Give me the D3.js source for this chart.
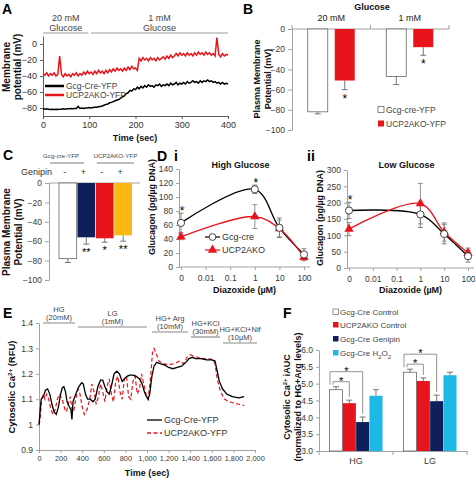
<!DOCTYPE html>
<html><head><meta charset="utf-8">
<script src="https://cdn.jsdelivr.net/npm/d3@7"></script>
<style>
body{margin:0;background:#fff}
svg{display:block}
text{font-family:"Liberation Sans",Arial,sans-serif}
</style>
</head><body>
<svg id="c" width="476" height="479"></svg>
<script>
// ---------------- DATA ----------------
// Panel A: membrane potential traces (sampled every 4 s, 0-400 s)
const aGcg = [
 -81,-81.5,-81,-81.5,-82,-81.5,-82,-81.5,-82,-81.5,
 -81.5,-81,-81.5,-81,-81,-80.5,-81,-80.5,-80.5,-78,
 -80.5,-80,-80.5,-80,-80,-79.5,-80,-79.5,-79,-79,
 -78.5,-78,-77.5,-76.5,-75.5,-75,-73.5,-73,-72,-71,
 -70,-69.5,-67.5,-66,-65,-62,-61,-58,-59,-56,
 -57,-54,-56,-53,-55,-52,-54,-51,-53,-52,
 -54,-51,-52,-50,-53,-51,-52,-50,-52,-49,
 -51,-50,-48,-51,-49,-50,-48,-50,-47,-49,
 -48,-46,-48,-47,-49,-46,-48,-46,-47,-45,
 -47,-46,-48,-47,-49,-48,-50,-48,-50,-49,
 -50];
const aUcp = [
 -37,-39,-36,-40,-37,-39,-36,-40,-38,-15,
 -38,-41,-37,-40,-38,-41,-37,-39,-36,-40,
 -37,-39,-35,-38,-34,-37,-35,-38,-34,-37,
 -33,-36,-34,-37,-33,-36,-32,-35,-31,-34,
 -30,-33,-31,-34,-30,-33,-29,-32,-28,-31,
 -30,-33,-18,-21,-17,-20,-18,-21,-17,-20,
 -18,-21,-17,-20,-18,-16,-19,-15,-18,-14,
 -17,-15,-12,-15,-11,-14,-12,-15,-11,-14,
 -12,-15,-11,-14,-10,-13,-11,-14,-10,-13,
 -11,-14,-12,-15,8,-13,-16,-12,-15,-13,
 -14];
const aTicksX = [0,100,200,300,400];
const aTicksY = [-80,-60,-40,-20,0];
const aProtocol = [{l1:"20 mM", l2:"Glucose", t0:0, t1:98},{l1:"1 mM", l2:"Glucose", t0:104, t1:400}];
const aLegend = ["Gcg-Cre-YFP","UCP2AKO-YFP"];

// Panel B
const bGroups = ["20 mM","1 mM"];
const bSeries = ["Gcg-cre-YFP","UCP2AKO-YFP"];
const bGcg = [-82,-47];
const bGcgErr = [2,8];
const bUcp = [-51,-18];
const bUcpErr = [9,8];
const bTicks = [-100,-80,-60,-40,-20,0];

// Panel C
const cConds = ["cre-","cre+","ko-","ko+"];
const cGenipin = ["-","+","-","+"];
const cVals = [-78,-56,-57,-54];
const cErr = [4,7,4,6];
const cStars = ["","**","*","**"];
const cTicks = [-100,-80,-60,-40,-20,0];

// Panel D (diazoxide uM; 0 plotted at 0.001)
const dDose = [0.001,1,10,100];
const dDoseLabels = ["0","0.01","0.1","1","10","100"];
const dDoseTicks = [0.001,0.01,0.1,1,10,100];
const dHiGcg = [63,111,56,18];
const dHiGcgErr = [14,6,14,8];
const dHiUcp = [43,72,55,14];
const dHiUcpErr = [4,17,12,5];
const dHiTicks = [0,20,40,60,80,100,120,140];
const dLoGcg = [176,164,104,36];
const dLoGcgErr = [25,40,30,18];
const dLoUcp = [119,197,110,46];
const dLoUcpErr = [20,62,28,15];
const dLoTicks = [0,50,100,150,200,250,300];

// Panel E: cytosolic Ca2+ traces
const eGcgT = [0,10,20,40,60,80,100,120,140,160,180,200,215,230,245,260,280,295,305,315,340,370,395,410,430,450,475,500,520,545,570,590,610,630,650,670,695,720,745,770,790,815,840,870,900,930,955,975,995,1010,1025,1045,1065,1090,1120,1160,1200,1240,1280,1320,1360,1390,1420,1450,1500,1550,1600,1630,1650,1670,1700,1740,1790,1850,1900];
const eGcgV = [1.0,1.05,1.10,1.11,1.135,1.14,1.12,1.08,1.05,1.04,1.07,1.12,1.145,1.15,1.13,1.09,1.07,1.06,1.02,1.09,1.12,1.15,1.165,1.16,1.12,1.10,1.10,1.09,1.10,1.15,1.175,1.175,1.15,1.13,1.12,1.15,1.20,1.21,1.20,1.17,1.18,1.19,1.195,1.195,1.19,1.18,1.16,1.13,1.11,1.10,1.12,1.19,1.23,1.245,1.24,1.235,1.225,1.22,1.225,1.23,1.245,1.26,1.265,1.26,1.26,1.255,1.255,1.25,1.21,1.17,1.14,1.12,1.11,1.105,1.11];
const eUcpT = [0,10,25,40,55,70,90,110,130,150,170,190,215,240,255,270,290,305,320,340,360,380,400,420,445,470,490,510,530,550,570,590,610,630,650,670,690,710,730,750,770,790,810,830,850,870,890,910,930,950,970,990,1010,1030,1050,1065,1085,1110,1150,1200,1250,1300,1340,1370,1400,1430,1470,1520,1570,1610,1630,1650,1680,1720,1760,1800,1850,1900];
const eUcpV = [1.0,1.02,1.10,1.12,1.10,1.12,1.10,1.06,1.04,1.06,1.10,1.12,1.10,1.06,1.05,1.08,1.11,1.06,1.05,1.10,1.14,1.12,1.07,1.04,1.06,1.10,1.16,1.13,1.08,1.11,1.16,1.13,1.09,1.15,1.18,1.12,1.09,1.17,1.19,1.13,1.10,1.18,1.19,1.11,1.10,1.17,1.19,1.12,1.14,1.20,1.16,1.12,1.10,1.17,1.28,1.30,1.28,1.25,1.24,1.235,1.24,1.25,1.24,1.265,1.275,1.27,1.265,1.26,1.26,1.255,1.24,1.18,1.13,1.10,1.09,1.085,1.08,1.075];
const eTicksX = [0,200,400,600,800,1000,1200,1400,1600,1800,2000];
const eTicksY = [0.9,1.0,1.1,1.2,1.3,1.4];
const eProtoL1 = ["HG","LG","HG+ Arg","HG+KCl","HG+KCl+Nif"];
const eProtoL2 = ["(20mM)","(1mM)","(10mM)","(30mM)","(10µM)"];
const eProtoStart = [37,361,1046,1407,1704];
const eProtoEnd = [333,1000,1380,1676,2019];
const eLegend = ["Gcg-Cre-YFP","UCP2AKO-YFP"];

// Panel F
const fGroups = ["HG","LG"];
const fSeries = ["Gcg-Cre Control","UCP2AKO Control","Gcg-Cre Genipin","Gcg-Cre H2O2"];
const fHG = [4.82,4.42,3.86,4.64];
const fHGErr = [0.09,0.09,0.15,0.18];
const fLG = [5.34,5.08,4.48,5.25];
const fLGErr = [0.09,0.09,0.18,0.09];
const fTicks = [3,3.5,4,4.5,5,5.5,6];

// ---------------- STYLE ----------------
const RED = "#e8141c", NAVY = "#0e1f5b", GOLD = "#fdb913", CYAN = "#1cb8e6";
const AX = "#8c8c8c", TX = "#3a3a3a";
const svg = d3.select("#c");
svg.append("rect").attr("width",476).attr("height",479).attr("fill","#fff");

function styleAxis(g, lc, tc, fs){
  g.select(".domain").attr("stroke", lc).attr("stroke-width",0.8);
  g.selectAll(".tick line").attr("stroke", lc).attr("stroke-width",0.8);
  g.selectAll(".tick text").attr("fill", tc).style("font-size", fs+"px").style("font-family","Liberation Sans, Arial, sans-serif");
}
function txt(x,y,s,o={}){
  const t = svg.append("text").attr("x",x).attr("y",y).text(s)
    .style("font-size",(o.fs||9)+"px").attr("fill",o.fill||TX)
    .attr("text-anchor",o.anchor||"start");
  if(o.bold) t.style("font-weight","bold");
  return t;
}
function vtxt(x,y,parts,fs,bold){
  const t = svg.append("text").attr("transform",`translate(${x},${y}) rotate(-90)`)
    .attr("text-anchor","middle").style("font-size",fs+"px").attr("fill","#111");
  if(bold) t.style("font-weight","bold");
  parts.forEach(p=>{
    const s=t.append("tspan").text(p[0]);
    if(p[1]==="sup"){s.attr("baseline-shift","super").style("font-size",(fs*0.65)+"px");}
  });
  return t;
}
function letter(x,y,s){ txt(x,y,s,{fs:14,bold:true,fill:"#000"}); }

// ================= PANEL A =================
{
  const x = d3.scaleLinear([0,400],[43,228]);
  const y = d3.scaleLinear([-90,10],[116,36]);
  const times = d3.range(0,401,4);
  const gx = svg.append("g").attr("transform","translate(0,116)")
    .call(d3.axisBottom(x).tickValues(aTicksX).tickSize(3).tickSizeOuter(0));
  styleAxis(gx,"#333","#333",9);
  const gy = svg.append("g").attr("transform","translate(43,0)")
    .call(d3.axisLeft(y).tickValues(aTicksY).tickSize(3).tickSizeOuter(0));
  styleAxis(gy,"#333","#333",9);
  const line = d3.line().x((d,i)=>x(times[i])).y(d=>y(d));
  svg.append("path").datum(aUcp).attr("d",line).attr("fill","none").attr("stroke",RED).attr("stroke-width",1.5);
  svg.append("path").datum(aGcg).attr("d",line).attr("fill","none").attr("stroke","#000").attr("stroke-width",1.5);
  aProtocol.forEach(p=>{
    svg.append("line").attr("x1",x(p.t0)).attr("x2",x(p.t1)).attr("y1",33).attr("y2",33).attr("stroke","#999").attr("stroke-width",1);
    const cx=(x(p.t0)+x(p.t1))/2;
    txt(cx,21,p.l1,{fs:9,anchor:"middle",fill:"#444"});
    txt(cx,31,p.l2,{fs:9,anchor:"middle",fill:"#444"});
  });
  [["#000",86],[RED,95]].forEach((c,i)=>{
    svg.append("line").attr("x1",45).attr("x2",64).attr("y1",c[1]).attr("y2",c[1]).attr("stroke",c[0]).attr("stroke-width",2.5);
    txt(66,c[1]+3,aLegend[i],{fs:8.5,fill:"#444"});
  });
  txt(135,141,"Time (sec)",{fs:9,bold:true,anchor:"middle",fill:"#111"});
  vtxt(10,67,[["Membrane"]],10,true);
  vtxt(21,67,[["potential (mV)"]],10,true);
  letter(2,14,"A");
}

// ================= PANEL B =================
{
  const y = d3.scaleLinear([-100,0],[130,29]);
  const xg = d3.scaleBand(bGroups,[292,449]);
  const xs = d3.scaleBand(bSeries,[0,47]).paddingInner(0.26);
  const gy = svg.append("g").attr("transform","translate(292,0)")
    .call(d3.axisLeft(y).tickValues(bTicks).tickSize(4).tickSizeOuter(0));
  styleAxis(gy,AX,TX,8.5);
  svg.append("line").attr("x1",292).attr("x2",449).attr("y1",29).attr("y2",29).attr("stroke",AX).attr("stroke-width",0.8);
  [292, (292+449)/2, 449].forEach(xx=>svg.append("line").attr("x1",xx).attr("x2",xx).attr("y1",29).attr("y2",25).attr("stroke",AX).attr("stroke-width",0.8));
  bGroups.forEach((g,gi)=>{
    const off = xg(g) + (xg.bandwidth()-47)/2;
    [[bGcg,bGcgErr,"#fff"],[bUcp,bUcpErr,RED]].forEach((s,si)=>{
      const x0 = off + xs(bSeries[si]), w = xs.bandwidth(), v=s[0][gi], e=s[1][gi];
      svg.append("rect").attr("x",x0).attr("y",y(0)).attr("width",w).attr("height",y(v)-y(0))
        .attr("fill",s[2]).attr("stroke",si===0?"#666":"none").attr("stroke-width",0.8);
      const cx=x0+w/2;
      svg.append("line").attr("x1",cx).attr("x2",cx).attr("y1",y(v)).attr("y2",y(v-e)).attr("stroke","#555").attr("stroke-width",0.8);
      svg.append("line").attr("x1",cx-3).attr("x2",cx+3).attr("y1",y(v-e)).attr("y2",y(v-e)).attr("stroke","#555").attr("stroke-width",0.8);
      if(si===1) txt(cx,y(v-e)+13,"*",{fs:12,anchor:"middle",fill:"#000"});
    });
    txt(xg(g)+xg.bandwidth()/2,21,g,{fs:9,anchor:"middle",fill:"#222"});
  });
  txt(372,10,"Glucose",{fs:9,bold:true,anchor:"middle",fill:"#111"});
  vtxt(260,79,[["Plasma Membrane"]],9,true);
  vtxt(271,79,[["Potential (mV)"]],9,true);
  [["#fff",110],[RED,124]].forEach((c,i)=>{
    svg.append("rect").attr("x",378).attr("y",c[1]-3.5).attr("width",6).attr("height",6).attr("fill",c[0]).attr("stroke",i===0?"#666":"none").attr("stroke-width",0.8);
    txt(386,c[1]+3,bSeries[i],{fs:8.5,fill:"#444"});
  });
  letter(243,14,"B");
}

// ================= PANEL C =================
{
  const y = d3.scaleLinear([-100,0],[280,183]);
  const x = d3.scaleBand(cConds,[59,132]).paddingInner(0.04);
  const fills = ["#fff",NAVY,RED,GOLD];
  const gy = svg.append("g").attr("transform","translate(49,0)")
    .call(d3.axisLeft(y).tickValues(cTicks).tickSize(4).tickSizeOuter(0));
  styleAxis(gy,AX,TX,8.5);
  svg.append("line").attr("x1",49).attr("x2",140).attr("y1",183).attr("y2",183).attr("stroke",AX).attr("stroke-width",0.8);
  cConds.forEach((c,i)=>{
    const x0=x(c), w=x.bandwidth(), v=cVals[i], e=cErr[i], cx=x0+w/2;
    svg.append("rect").attr("x",x0).attr("y",y(0)).attr("width",w).attr("height",y(v)-y(0))
      .attr("fill",fills[i]).attr("stroke",i===0?"#666":"none").attr("stroke-width",0.8);
    svg.append("line").attr("x1",cx).attr("x2",cx).attr("y1",y(v)).attr("y2",y(v-e)).attr("stroke","#555").attr("stroke-width",0.8);
    svg.append("line").attr("x1",cx-3).attr("x2",cx+3).attr("y1",y(v-e)).attr("y2",y(v-e)).attr("stroke","#555").attr("stroke-width",0.8);
    if(cStars[i]) txt(cx,y(v-e)+12,cStars[i],{fs:11,anchor:"middle",fill:"#000"});
    txt(cx-3,175,cGenipin[i],{fs:9,anchor:"middle",fill:"#333"});
  });
  txt(52,175,"Genipin",{fs:9,anchor:"end",fill:"#333"});
  const g1=[x(cConds[0])-9, x(cConds[1])+x.bandwidth()-11], g2=[x(cConds[2])+1, x(cConds[3])+x.bandwidth()+2];
  svg.append("line").attr("x1",g1[0]).attr("x2",g1[1]).attr("y1",163).attr("y2",163).attr("stroke","#555").attr("stroke-width",0.8);
  svg.append("line").attr("x1",g2[0]).attr("x2",g2[1]).attr("y1",163).attr("y2",163).attr("stroke","#555").attr("stroke-width",0.8);
  txt((g1[0]+g1[1])/2-6,158,"Gcg-cre-YFP",{fs:6.2,anchor:"middle",fill:"#444"});
  txt((g2[0]+g2[1])/2,158,"UCP2AKO-YFP",{fs:6.2,anchor:"middle",fill:"#444"});
  vtxt(10,232,[["Plasma Membrane"]],10,true);
  vtxt(22,232,[["Potential (mV)"]],10,true);
  letter(3,160,"C");
}

// ================= PANEL D =================
function panelD(x0,x1,yTop,yBot,ymax,ticks,gcg,gcgE,ucp,ucpE,title,starIdx,showLegend){
  const x = d3.scaleLog([0.001,100],[x0,x1]);
  const y = d3.scaleLinear([0,ymax],[yBot,yTop]);
  const gy = svg.append("g").attr("transform",`translate(${x0-2},0)`)
    .call(d3.axisLeft(y).tickValues(ticks).tickSize(3).tickSizeOuter(0));
  styleAxis(gy,AX,TX,8.5);
  const gx = svg.append("g").attr("transform",`translate(0,${yBot})`)
    .call(d3.axisBottom(x).tickValues(dDoseTicks).tickFormat((d,i)=>dDoseLabels[i]).tickSize(3).tickSizeOuter(0));
  gx.select(".domain").attr("d",`M${x0-2},0H${x1+6}`);
  styleAxis(gx,AX,TX,8.5);
  gx.selectAll(".tick text").attr("dy","0.9em");
  const line = d3.line().x((d,i)=>x(dDose[i])).y(d=>y(d)).curve(d3.curveCatmullRom.alpha(0.5));
  const eb=(vals,errs,col)=>vals.forEach((v,i)=>{
    const cx=x(dDose[i]);
    svg.append("line").attr("x1",cx).attr("x2",cx).attr("y1",y(v+errs[i])).attr("y2",y(Math.max(0,v-errs[i]))).attr("stroke",col).attr("stroke-width",0.8);
    [v+errs[i],Math.max(0,v-errs[i])].forEach(e=>svg.append("line").attr("x1",cx-2.5).attr("x2",cx+2.5).attr("y1",y(e)).attr("y2",y(e)).attr("stroke",col).attr("stroke-width",0.8));
  });
  eb(gcg,gcgE,"#666"); eb(ucp,ucpE,"#777");
  svg.append("path").datum(gcg).attr("d",line).attr("fill","none").attr("stroke","#000").attr("stroke-width",1.3);
  svg.append("path").datum(ucp).attr("d",line).attr("fill","none").attr("stroke",RED).attr("stroke-width",1.3);
  const tri = d3.symbol(d3.symbolTriangle,38);
  ucp.forEach((v,i)=>svg.append("path").attr("d",tri()).attr("transform",`translate(${x(dDose[i])},${y(v)})`).attr("fill",RED));
  gcg.forEach((v,i)=>svg.append("circle").attr("cx",x(dDose[i])).attr("cy",y(v)).attr("r",3.6).attr("fill","#fff").attr("stroke","#333").attr("stroke-width",0.9));
  starIdx.forEach(i=>txt(x(dDose[i])+1,y(gcg[i]+gcgE[i])+2,"*",{fs:12,anchor:"middle",fill:"#000"}));
  txt((x0+x1)/2-2,168,title,{fs:9,bold:true,anchor:"middle",fill:"#111"});
  txt((x0+x1)/2+2,293,"Diazoxide (µM)",{fs:9,bold:true,anchor:"middle",fill:"#111"});
  if(showLegend){
    const lx=205;
    svg.append("line").attr("x1",lx).attr("x2",lx+15).attr("y1",237).attr("y2",237).attr("stroke","#000").attr("stroke-width",1.2);
    svg.append("circle").attr("cx",lx+7.5).attr("cy",237).attr("r",3.4).attr("fill","#fff").attr("stroke","#333").attr("stroke-width",0.9);
    txt(lx+17,240,"Gcg-cre",{fs:9,fill:"#333"});
    svg.append("line").attr("x1",lx).attr("x2",lx+15).attr("y1",250).attr("y2",250).attr("stroke",RED).attr("stroke-width",1.2);
    svg.append("path").attr("d",tri()).attr("transform",`translate(${lx+7.5},250)`).attr("fill",RED);
    txt(lx+17,253,"UCP2AKO",{fs:9,fill:"#333"});
  }
}
panelD(181,304,169,267,140,dHiTicks,dHiGcg,dHiGcgErr,dHiUcp,dHiUcpErr,"High Glucose",[0,1],true);
panelD(349,468,170,268,300,dLoTicks,dLoGcg,dLoGcgErr,dLoUcp,dLoUcpErr,"Low Glucose",[0],false);
letter(157,161,"D");
txt(174,161,"i",{fs:14,bold:true,fill:"#000"});
txt(307,161,"ii",{fs:14,bold:true,fill:"#000"});
vtxt(155,207,[["Glucagon (pg/µg DNA)"]],9,true);
vtxt(323,218,[["Glucagon (pg/µg DNA)"]],9,true);

// ================= PANEL E =================
{
  const x = d3.scaleLinear([0,2000],[39,255]);
  const y = d3.scaleLinear([0.9,1.4],[450,323]);
  const gx = svg.append("g").attr("transform","translate(0,450)")
    .call(d3.axisBottom(x).tickValues(eTicksX).tickSize(3).tickSizeOuter(0));
  styleAxis(gx,AX,TX,7.4);
  const gy = svg.append("g").attr("transform","translate(39,0)")
    .call(d3.axisLeft(y).tickValues(eTicksY).tickFormat(d=>String(+d.toFixed(1))).tickSize(3).tickSizeOuter(0));
  styleAxis(gy,AX,TX,8.5);
  svg.append("path").datum(eUcpV).attr("d",d3.line().x((d,i)=>x(eUcpT[i])).y(d=>y(d)))
    .attr("fill","none").attr("stroke","#e8141c").attr("stroke-width",1.2).attr("stroke-dasharray","4,2.5");
  svg.append("path").datum(eGcgV).attr("d",d3.line().x((d,i)=>x(eGcgT[i])).y(d=>y(d)))
    .attr("fill","none").attr("stroke","#000").attr("stroke-width",1.3);
  const lineY=[323,327,332,337,343];
  eProtoL1.forEach((l,i)=>{
    const a=x(eProtoStart[i]), b=x(eProtoEnd[i]), cx=(a+b)/2;
    svg.append("line").attr("x1",a).attr("x2",b).attr("y1",lineY[i]).attr("y2",lineY[i]).attr("stroke","#8a8a8a").attr("stroke-width",1.2);
    txt(cx,lineY[i]-11,l,{fs:7.5,anchor:"middle",fill:"#444"});
    txt(cx,lineY[i]-3,eProtoL2[i],{fs:7.5,anchor:"middle",fill:"#444"});
  });
  svg.append("line").attr("x1",147).attr("x2",162).attr("y1",420).attr("y2",420).attr("stroke","#000").attr("stroke-width",1.3);
  txt(164,423,eLegend[0],{fs:9,fill:"#333"});
  svg.append("line").attr("x1",147).attr("x2",162).attr("y1",433).attr("y2",433).attr("stroke",RED).attr("stroke-width",1.3).attr("stroke-dasharray","4,2.5");
  txt(164,436,eLegend[1],{fs:9,fill:"#333"});
  txt(147,476,"Time (sec)",{fs:9,bold:true,anchor:"middle",fill:"#111"});
  vtxt(15,387,[["Cytosolic Ca"],["2+","sup"],[" (RFU)"]],9.5,true);
  letter(3,318,"E");
}

// ================= PANEL F =================
{
  const y = d3.scaleLinear([3,6],[451,350]);
  const xg = d3.scaleBand(fGroups,[319,467]);
  const xs = d3.scaleBand(fSeries,[0,53]).paddingInner(0.02);
  const fills=["#fff",RED,NAVY,CYAN];
  const gy = svg.append("g").attr("transform","translate(319,0)")
    .call(d3.axisLeft(y).tickValues(fTicks).tickSize(3).tickSizeOuter(0));
  styleAxis(gy,AX,TX,8.5);
  const gx = svg.append("g").attr("transform","translate(0,451)")
    .call(d3.axisBottom(xg).tickSize(0).tickSizeOuter(0));
  styleAxis(gx,AX,TX,9);
  gx.selectAll(".tick text").attr("dy","1.1em");
  [319,393,467].forEach(xx=>svg.append("line").attr("x1",xx).attr("x2",xx).attr("y1",451).attr("y2",455).attr("stroke",AX).attr("stroke-width",0.8));
  const vals=[fHG,fLG], errs=[fHGErr,fLGErr];
  fGroups.forEach((g,gi)=>{
    const off=xg(g)+(xg.bandwidth()-53)/2;
    const pos=[];
    fSeries.forEach((s,si)=>{
      const x0=off+xs(s), w=xs.bandwidth(), v=vals[gi][si], e=errs[gi][si], cx=x0+w/2;
      pos.push({cx, top:y(v+e)});
      svg.append("rect").attr("x",x0).attr("y",y(v)).attr("width",w).attr("height",y(3)-y(v))
        .attr("fill",fills[si]).attr("stroke",si===0?"#666":"none").attr("stroke-width",0.8);
      svg.append("line").attr("x1",cx).attr("x2",cx).attr("y1",y(v)).attr("y2",y(v+e)).attr("stroke","#555").attr("stroke-width",0.8);
      svg.append("line").attr("x1",cx-3).attr("x2",cx+3).attr("y1",y(v+e)).attr("y2",y(v+e)).attr("stroke","#555").attr("stroke-width",0.8);
    });
    // significance brackets: control vs UCP2AKO, control vs Genipin
    [[1,5,3],[2,15,3]].forEach(([t,up,inset])=>{
      const by=pos[0].top-up, lx=pos[0].cx-inset+(t===2?-3:0), rx=pos[t].cx;
      svg.append("path").attr("d",`M${lx},${pos[0].top-2}V${by}H${rx}V${pos[t].top-3}`)
        .attr("fill","none").attr("stroke","#888").attr("stroke-width",0.9);
      txt((lx+rx)/2,by+3,"*",{fs:11,anchor:"middle",fill:"#000"});
    });
  });
  const ly=[312,325,339,353];
  fSeries.forEach((s,i)=>{
    svg.append("rect").attr("x",333).attr("y",ly[i]-3).attr("width",5.5).attr("height",5.5).attr("fill",fills[i]).attr("stroke",i===0?"#666":"none").attr("stroke-width",0.7);
    const t=txt(340,ly[i]+3,"",{fs:8,fill:"#444"});
    if(s.endsWith("H2O2")){
      t.append("tspan").text("Gcg-Cre H");
      t.append("tspan").text("2").attr("baseline-shift","sub").style("font-size","6px");
      t.append("tspan").text("O");
      t.append("tspan").text("2").attr("baseline-shift","sub").style("font-size","6px");
    } else t.text(s);
  });
  vtxt(290,397,[["Cytosolic Ca"],["2+","sup"],[" iAUC"]],9,true);
  vtxt(301,397,[["(normalized to HG+Arg levels)"]],9,true);
  letter(283,318,"F");
}
</script>
</body></html>
